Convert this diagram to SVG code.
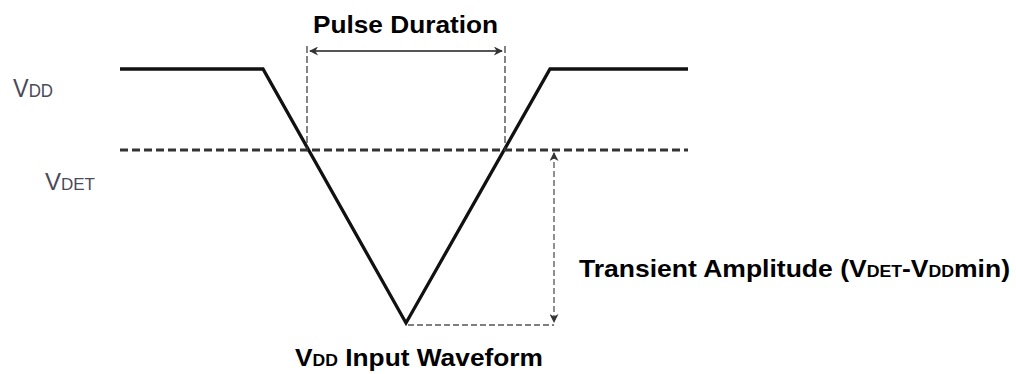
<svg xmlns="http://www.w3.org/2000/svg" width="1016" height="374" viewBox="0 0 1016 374">
<style>
.wave{fill:none;stroke:#111;stroke-width:3.3;stroke-linejoin:miter}
.det{fill:none;stroke:#333;stroke-width:3;stroke-dasharray:8 4}
.guide{fill:none;stroke:#333;stroke-width:1.2;stroke-dasharray:7 3}
.dim{fill:none;stroke:#555;stroke-width:1.8}
.dimd{fill:none;stroke:#555;stroke-width:1.3;stroke-dasharray:6 3}
.lbl{font-family:"Liberation Sans",Arial,sans-serif;font-weight:bold;fill:#000}
.axis{font-family:"Liberation Sans",Arial,sans-serif;fill:#4a4a58}
</style>
<defs>
<marker id="ah" viewBox="0 0 10 10" refX="9" refY="5" markerWidth="12" markerHeight="9" markerUnits="userSpaceOnUse" orient="auto-start-reverse">
<path d="M0,0 L10,5 L0,10 L3,5 Z" fill="#333"/>
</marker>
</defs>
<g id="axis-labels">
<text class="axis" x="13" y="97" textLength="40" lengthAdjust="spacingAndGlyphs"><tspan font-size="25">V</tspan><tspan font-size="18">DD</tspan></text>
<text class="axis" x="45" y="190" textLength="50" lengthAdjust="spacingAndGlyphs"><tspan font-size="24">V</tspan><tspan font-size="17">DET</tspan></text>
</g>
<g id="waveform">
<polyline class="wave" points="120,69 263,69 406,323 550,69 688,69"/>
</g>
<g id="vdet-line">
<line class="det" x1="120" y1="150" x2="688" y2="150"/>
</g>
<g id="connectors">
<line class="guide" x1="307" y1="46" x2="307" y2="150"/>
<line class="guide" x1="505" y1="46" x2="505" y2="150"/>
<line class="dim" x1="310" y1="51" x2="502" y2="51" marker-start="url(#ah)" marker-end="url(#ah)"/>
<line class="dimd" x1="554" y1="153" x2="554" y2="322" marker-start="url(#ah)" marker-end="url(#ah)"/>
<line class="dimd" x1="408" y1="325" x2="554" y2="325"/>
</g>
<g id="pulse-duration">
<text class="lbl" x="313" y="33" font-size="24" textLength="185" lengthAdjust="spacingAndGlyphs">Pulse Duration</text>
</g>
<g id="transient-amplitude">
<text class="lbl" x="579" y="277" font-size="24" textLength="431" lengthAdjust="spacingAndGlyphs">Transient Amplitude (V<tspan font-size="16">DET</tspan>-V<tspan font-size="16">DD</tspan>min)</text>
</g>
<g id="input-waveform">
<text class="lbl" x="295" y="366" font-size="24" textLength="248" lengthAdjust="spacingAndGlyphs">V<tspan font-size="16">DD</tspan> Input Waveform</text>
</g>
</svg>
